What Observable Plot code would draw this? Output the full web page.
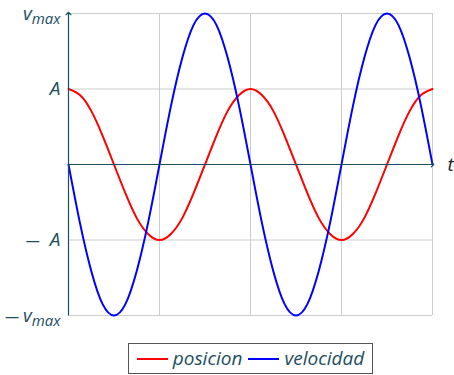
<!DOCTYPE html>
<html>
<head>
<meta charset="utf-8">
<script src="https://cdn.jsdelivr.net/npm/d3@7"></script>
<script src="https://cdn.jsdelivr.net/npm/@observablehq/plot@0.6"></script>
<style>
  body { margin: 0; background: #fff; font-family: "Open Sans", sans-serif; }
  #wrap { position: relative; width: 454px; height: 375px; }
  #legend {
    position: absolute; left: 128px; top: 343px; width: 245px; height: 31px;
    border: 1px solid #555; box-sizing: border-box;
    display: flex; align-items: center; justify-content: center; gap: 6px;
    font-style: italic; font-size: 19px; color: #1d4e60; line-height: 1;
  }
  #legend .sw { display: inline-block; width: 31px; height: 2px; margin: 0 5px 0 0; }
</style>
</head>
<body>
<div id="wrap"><div id="chart"></div>
<div id="legend"></div></div>
<script>
// time in units of π (t = k·π/8)
const tValues = d3.range(0, 33).map(k => k / 8);
// posicion (units of A)
const posicion = [1, 0.92, 0.71, 0.38, 0, -0.38, -0.71, -0.92, -1, -0.92, -0.71, -0.38, 0, 0.38, 0.71, 0.92,
                  1, 0.92, 0.71, 0.38, 0, -0.38, -0.71, -0.92, -1, -0.92, -0.71, -0.38, 0, 0.38, 0.71, 0.92, 1];
// velocidad (units of A; v_max = 2A)
const velocidad = [0, -0.77, -1.41, -1.85, -2, -1.85, -1.41, -0.77, 0, 0.77, 1.41, 1.85, 2, 1.85, 1.41, 0.77,
                   0, -0.77, -1.41, -1.85, -2, -1.85, -1.41, -0.77, 0, 0.77, 1.41, 1.85, 2, 1.85, 1.41, 0.77, 0];
const seriesNames = ["posicion", "velocidad"];
const seriesColors = ["#ff0000", "#0000ff"];
const yTicks = [2, 1, -1, -2];
// "−" prefix = minus sign, "|" = start of subscript
const yTickLabels = ["v|max", "A", "−A", "−v|max"];
const xGrid = [1, 2, 3, 4];

const axisColor = "#1d4e60";
const data = [];
tValues.forEach((t, i) => {
  data.push({t, y: posicion[i], s: seriesNames[0]});
  data.push({t, y: velocidad[i], s: seriesNames[1]});
});
const xMin = d3.min(tValues), xMax = d3.max(tValues);
const yMin = d3.min(yTicks), yMax = d3.max(yTicks);

const plot = Plot.plot({
  width: 454, height: 330,
  marginLeft: 68, marginRight: 22, marginTop: 13, marginBottom: 15,
  x: {domain: [xMin, xMax]},
  y: {domain: [yMin, yMax]},
  color: {domain: seriesNames, range: seriesColors},
  style: {fontFamily: "Open Sans, sans-serif", background: "#fff"},
  marks: [
    Plot.ruleX(xGrid, {stroke: "#cccccc", strokeWidth: 1}),
    Plot.ruleY(yTicks, {stroke: "#cccccc", strokeWidth: 1}),
    Plot.axisX({ticks: [], label: null, tickSize: 0}),
    Plot.axisY({ticks: yTicks, tickSize: 0, tickPadding: 8, label: null,
      tickFormat: d => yTickLabels[yTicks.indexOf(d)],
      fontSize: 19, fontStyle: "italic", fill: axisColor}),
    Plot.line(data, {x: "t", y: "y", stroke: "s", z: "s", strokeWidth: 2, curve: "natural"}),
    Plot.link([{x1: xMin, y1: 0, x2: xMax, y2: 0}], {x1: "x1", y1: "y1", x2: "x2", y2: "y2",
      stroke: axisColor, strokeWidth: 1.2, markerEnd: "arrow"}),
    Plot.link([{x1: xMin, y1: yMin, x2: xMin, y2: yMax}], {x1: "x1", y1: "y1", x2: "x2", y2: "y2",
      stroke: axisColor, strokeWidth: 1.2, markerEnd: "arrow"}),
    Plot.text([{x: xMax, y: 0}], {x: "x", y: "y", text: () => "t", dx: 18, fontSize: 19,
      fontStyle: "italic", fill: "#222", textAnchor: "middle"})
  ]
});
document.getElementById("chart").appendChild(plot);

// math-style labels: long minus sign and subscripts
d3.select(plot).selectAll("g[aria-label='y-axis tick label'] text").each(function() {
  const el = d3.select(this);
  let txt = el.text();
  el.text(null);
  let gap = 0;
  if (txt.startsWith("−")) {
    txt = txt.slice(1);
    el.append("tspan").attr("font-style", "normal").attr("font-size", 14).text("—");
    gap = txt.includes("|") ? 4 : 10;
  }
  const [main, sub] = txt.split("|");
  const m = el.append("tspan").text(main);
  if (gap) m.attr("dx", gap);
  if (sub) el.append("tspan").attr("dy", "0.3em").attr("font-size", 15).text(sub);
});

const lg = d3.select("#legend");
seriesNames.forEach((n, i) => {
  const item = lg.append("span").style("display", "inline-flex").style("align-items", "center");
  item.append("span").attr("class", "sw").style("background", seriesColors[i]);
  item.append("span").text(n);
});
</script>
</body>
</html>
